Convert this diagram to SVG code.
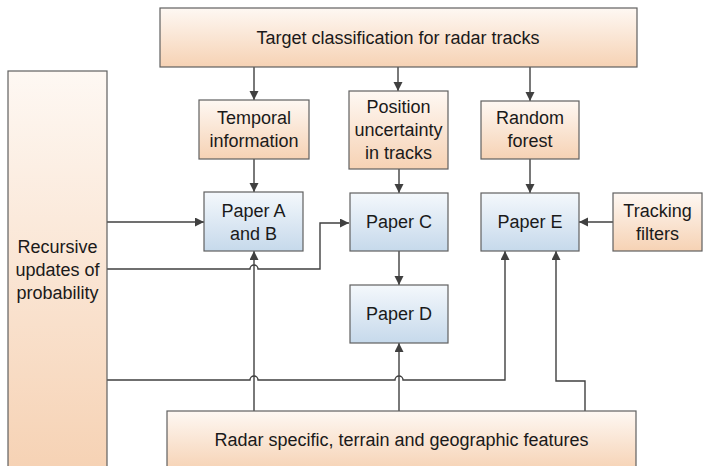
<svg xmlns="http://www.w3.org/2000/svg" width="704" height="466" viewBox="0 0 704 466">
<defs>
<linearGradient id="gOr" x1="0" y1="0" x2="0" y2="1">
<stop offset="0" stop-color="#fef8f3"/>
<stop offset="1" stop-color="#f6d2b4"/>
</linearGradient>
<linearGradient id="gBl" x1="0" y1="0" x2="0" y2="1">
<stop offset="0" stop-color="#f4f8fc"/>
<stop offset="1" stop-color="#c6d9eb"/>
</linearGradient>
<marker id="ah" markerUnits="userSpaceOnUse" markerWidth="10" markerHeight="10" refX="9" refY="4.5" orient="auto">
<path d="M0,0 L9,4.5 L0,9 Z" fill="#404040"/>
</marker>
<style>
.or{fill:url(#gOr);stroke:#606060;stroke-width:1.2}
.bl{fill:url(#gBl);stroke:#606060;stroke-width:1.2}
text{font-family:"Liberation Sans",Arial,sans-serif;font-size:18px;fill:#1a1a1a;text-anchor:middle}
.c{fill:none;stroke:#404040;stroke-width:1.4}
.a{marker-end:url(#ah)}
</style>
</defs>
<rect width="704" height="466" fill="#ffffff"/>
<g id="connectors">
<path class="c a" d="M254,67 V100"/>
<path class="c a" d="M398,67 V91"/>
<path class="c a" d="M530,67 V101"/>
<path class="c a" d="M254,159 V192"/>
<path class="c a" d="M399,169 V193"/>
<path class="c a" d="M530,159 V193"/>
<path class="c a" d="M107,222 H204"/>
<path class="c a" d="M107,269 H250 A4,4 0 0 1 258,269 H320 V223 H349"/>
<path class="c a" d="M399,251 V285"/>
<path class="c a" d="M613,222 H579"/>
<path class="c a" d="M107,380 H250 A4,4 0 0 1 258,380 H395 A4,4 0 0 1 403,380 H505 V251"/>
<path class="c a" d="M254,411 V251"/>
<path class="c a" d="M399,411 V343"/>
<path class="c a" d="M585,411 V381 H556 V251"/>
</g>
<g id="top">
<rect class="or" x="160" y="8" width="477" height="59"/>
<text x="398" y="44">Target classification for radar tracks</text>
</g>
<g id="recursive">
<rect class="or" x="8" y="71" width="99" height="400"/>
<text x="57.5" y="253">Recursive</text>
<text x="57.5" y="276">updates of</text>
<text x="57.5" y="299">probability</text>
</g>
<g id="temporal">
<rect class="or" x="199" y="100" width="110" height="59"/>
<text x="254" y="124">Temporal</text>
<text x="254" y="147">information</text>
</g>
<g id="position">
<rect class="or" x="349" y="91" width="99" height="78"/>
<text x="398.5" y="113">Position</text>
<text x="398.5" y="136">uncertainty</text>
<text x="398.5" y="159">in tracks</text>
</g>
<g id="random">
<rect class="or" x="481" y="101" width="98" height="58"/>
<text x="530" y="124">Random</text>
<text x="530" y="147">forest</text>
</g>
<g id="paperAB">
<rect class="bl" x="204" y="192" width="99" height="59"/>
<text x="253.5" y="217">Paper A</text>
<text x="253.5" y="240">and B</text>
</g>
<g id="paperC">
<rect class="bl" x="350" y="193" width="98" height="58"/>
<text x="399" y="228">Paper C</text>
</g>
<g id="paperE">
<rect class="bl" x="481" y="193" width="98" height="58"/>
<text x="530" y="228">Paper E</text>
</g>
<g id="tracking">
<rect class="or" x="613" y="193" width="89" height="58"/>
<text x="657.5" y="217">Tracking</text>
<text x="657.5" y="240">filters</text>
</g>
<g id="paperD">
<rect class="bl" x="350" y="285" width="98" height="58"/>
<text x="399" y="320">Paper D</text>
</g>
<g id="radar">
<rect class="or" x="167" y="411" width="469" height="60"/>
<text x="401.5" y="446">Radar specific, terrain and geographic features</text>
</g>
</svg>
